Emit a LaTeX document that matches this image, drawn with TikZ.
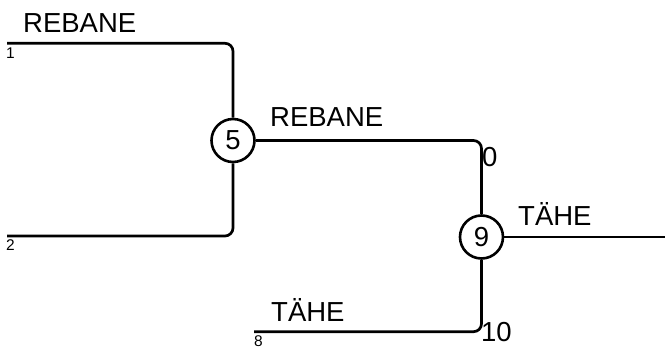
\documentclass[tikz,border=0pt]{standalone}
\usepackage{fontspec}
\setmainfont{Liberation Sans}
\begin{document}
\begin{tikzpicture}[x=1pt,y=-1pt,
  line/.style={line width=2.7pt, rounded corners=8pt},
  junc/.style={circle, draw, line width=2.6pt, minimum size=43pt, inner sep=0pt, font=\fontsize{27.5}{30}\selectfont},
  big/.style={anchor=base west, inner sep=0pt, font=\fontsize{27.5}{30}\selectfont},
  small/.style={anchor=base west, inner sep=0pt, font=\fontsize{15.5}{17}\selectfont}]
\useasboundingbox (0,0) rectangle (665,348);
\node[junc] (n5) at (233,140.5) {5};
\node[junc] (n9) at (481.5,237) {9};
\coordinate (a1) at (7,43.3);
\coordinate (a2) at (7,236);
\coordinate (b8) at (254,331.7);
\coordinate (out) at (665,237);
\draw[line] (a1) -| (n5);
\draw[line] (a2) -| (n5);
\draw[line] (n5) -| (n9);
\draw[line] (b8) -| (n9);
\draw[line] (n9) -- (out);
\node[big] (t1) at (23,32.3) {REBANE};
\node[big] (t2) at (270,126.7) {REBANE};
\node[big] (t3) at (518,225) {TÄHE};
\node[big] (t4) at (271,321) {TÄHE};
\node[big] (l0) at (482,166.7) {0};
\node[big] (l10) at (481,341.7) {10};
\node[small] (l1) at (6,58.5) {1};
\node[small] (l2) at (6,250.7) {2};
\node[small] (l8) at (254,346) {8};
\end{tikzpicture}
\end{document}
